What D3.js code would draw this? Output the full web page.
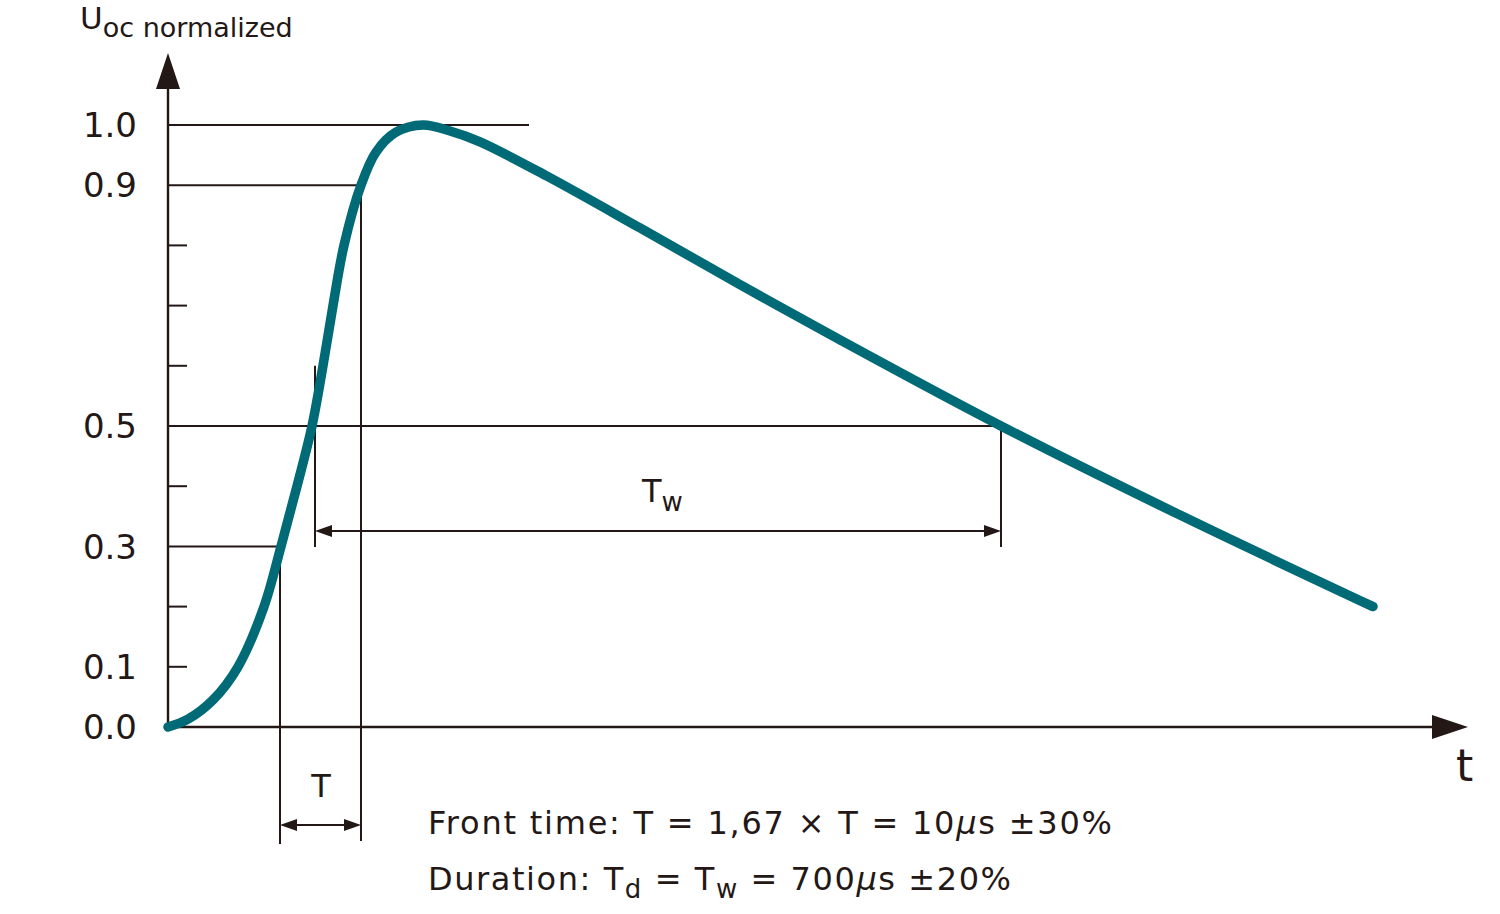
<!DOCTYPE html>
<html>
<head>
<meta charset="utf-8">
<script src="https://cdn.jsdelivr.net/npm/d3@7"></script>
<style>
  body { margin: 0; background: #fff; }
  text { font-family: "DejaVu Sans", sans-serif; fill: #231815; }
</style>
</head>
<body>
<svg width="1500" height="914"></svg>
<script>
// surge waveform, time in arbitrary units, voltage normalized
const times = [0, 20, 45, 70, 96, 113, 129, 144, 155, 165, 176, 193, 208, 228, 255, 282, 312, 379, 472, 572, 672, 833, 1012, 1205];
const values = [0, 0.013, 0.045, 0.1, 0.2, 0.3, 0.4, 0.5, 0.6, 0.7, 0.8, 0.9, 0.955, 0.988, 1.0, 0.99, 0.972, 0.915, 0.829, 0.735, 0.643, 0.5, 0.352, 0.2];

const labelTicks = [0.0, 0.1, 0.3, 0.5, 0.9, 1.0];
const minorTicks = [0.1, 0.2, 0.4, 0.6, 0.7, 0.8];

// marker times
const t30 = 112, t50 = 147, t90 = 193, tHalf = 833, tPeakLineEnd = 361;

const svg = d3.select('svg');
const ink = '#231815';

const x = d3.scaleLinear().domain([0, 1300]).range([168, 1468]);
const y = d3.scaleLinear().domain([0, 1]).range([727, 125]);

const line = (x1, y1, x2, y2, w = 2) => svg.append('line')
  .attr('x1', x1).attr('y1', y1).attr('x2', x2).attr('y2', y2)
  .style('stroke', ink).style('stroke-width', w);

const arrowHead = (tipX, tipY, dir, len, half) => {
  // dir: 'up' | 'right' | 'left'
  let pts;
  if (dir === 'up') pts = [[tipX, tipY], [tipX - half, tipY + len], [tipX + half, tipY + len]];
  else if (dir === 'right') pts = [[tipX, tipY], [tipX - len, tipY - half], [tipX - len, tipY + half]];
  else pts = [[tipX, tipY], [tipX + len, tipY - half], [tipX + len, tipY + half]];
  svg.append('polygon').attr('points', pts.map(p => p.join(',')).join(' ')).style('fill', ink);
};

// axes
line(x(0), y(0), x(0), 86, 2.4);
line(x(0), y(0), 1434, y(0), 2.4);
arrowHead(x(0), 53, 'up', 36, 12);
arrowHead(x(1300), y(0), 'right', 36, 12);

// small ticks
svg.append('g').selectAll('line').data(minorTicks).join('line')
  .attr('x1', x(0)).attr('x2', x(0) + 19)
  .attr('y1', d => y(d)).attr('y2', d => y(d))
  .style('stroke', ink).style('stroke-width', 2);

// tick labels
svg.append('g').selectAll('text').data(labelTicks).join('text')
  .attr('x', 137).attr('y', d => y(d)).attr('dy', '0.36em')
  .attr('text-anchor', 'end').style('font-size', '34px')
  .text(d => d.toFixed(1));

// reference lines
line(x(0), y(1.0), x(tPeakLineEnd), y(1.0));
line(x(0), y(0.9), x(t90), y(0.9));
line(x(0), y(0.5), x(tHalf), y(0.5));
line(x(0), y(0.3), x(t30), y(0.3));

line(x(t30), y(0.3), x(t30), 844);
line(x(t90), y(0.9), x(t90), 841);
line(x(t50), y(0.6), x(t50), 547);
line(x(tHalf), y(0.5), x(tHalf), 547);

// Tw dimension
const twY = 531;
line(x(t50) + 4, twY, x(tHalf) - 4, twY);
arrowHead(x(t50), twY, 'left', 17, 6);
arrowHead(x(tHalf), twY, 'right', 17, 6);

// T dimension
const tY = 825;
line(x(t30) + 4, tY, x(t90) - 4, tY);
arrowHead(x(t30), tY, 'left', 17, 6);
arrowHead(x(t90), tY, 'right', 17, 6);

// waveform
const data = times.map((t, i) => ({ t, v: values[i] }));
svg.append('path').datum(data)
  .attr('d', d3.line().x(d => x(d.t)).y(d => y(d.v)).curve(d3.curveCatmullRom.alpha(0.5)))
  .style('fill', 'none').style('stroke', '#006a76').style('stroke-width', 9.5)
  .style('stroke-linecap', 'round').style('stroke-linejoin', 'round');

// labels
const title = svg.append('text').attr('x', 80).attr('y', 29).style('font-size', '31px');
title.append('tspan').text('U');
title.append('tspan').attr('dy', 8).style('font-size', '27px').text('oc normalized');

svg.append('text').attr('x', 1456).attr('y', 781).style('font-size', '44px').text('t');

const tw = svg.append('text').attr('x', 642).attr('y', 502).style('font-size', '32px');
tw.append('tspan').text('T');
tw.append('tspan').attr('dy', 9).style('font-size', '26px').text('w');

svg.append('text').attr('x', 321).attr('y', 797).attr('text-anchor', 'middle')
  .style('font-size', '32px').text('T');

const l1 = svg.append('text').attr('x', 428).attr('y', 834).style('font-size', '32px')
  .attr('textLength', 684).attr('lengthAdjust', 'spacing');
l1.append('tspan').text('Front time: T = 1,67 × T = 10');
l1.append('tspan').style('font-style', 'italic').text('μ');
l1.append('tspan').text('s ±30%');

const l2 = svg.append('text').attr('x', 428).attr('y', 890).style('font-size', '32px')
  .attr('textLength', 583).attr('lengthAdjust', 'spacing');
l2.append('tspan').text('Duration: T');
l2.append('tspan').attr('dy', 8).style('font-size', '26px').text('d');
l2.append('tspan').attr('dy', -8).text(' = T');
l2.append('tspan').attr('dy', 8).style('font-size', '26px').text('w');
l2.append('tspan').attr('dy', -8).text(' = 700');
l2.append('tspan').style('font-style', 'italic').text('μ');
l2.append('tspan').text('s ±20%');
</script>
</body>
</html>
